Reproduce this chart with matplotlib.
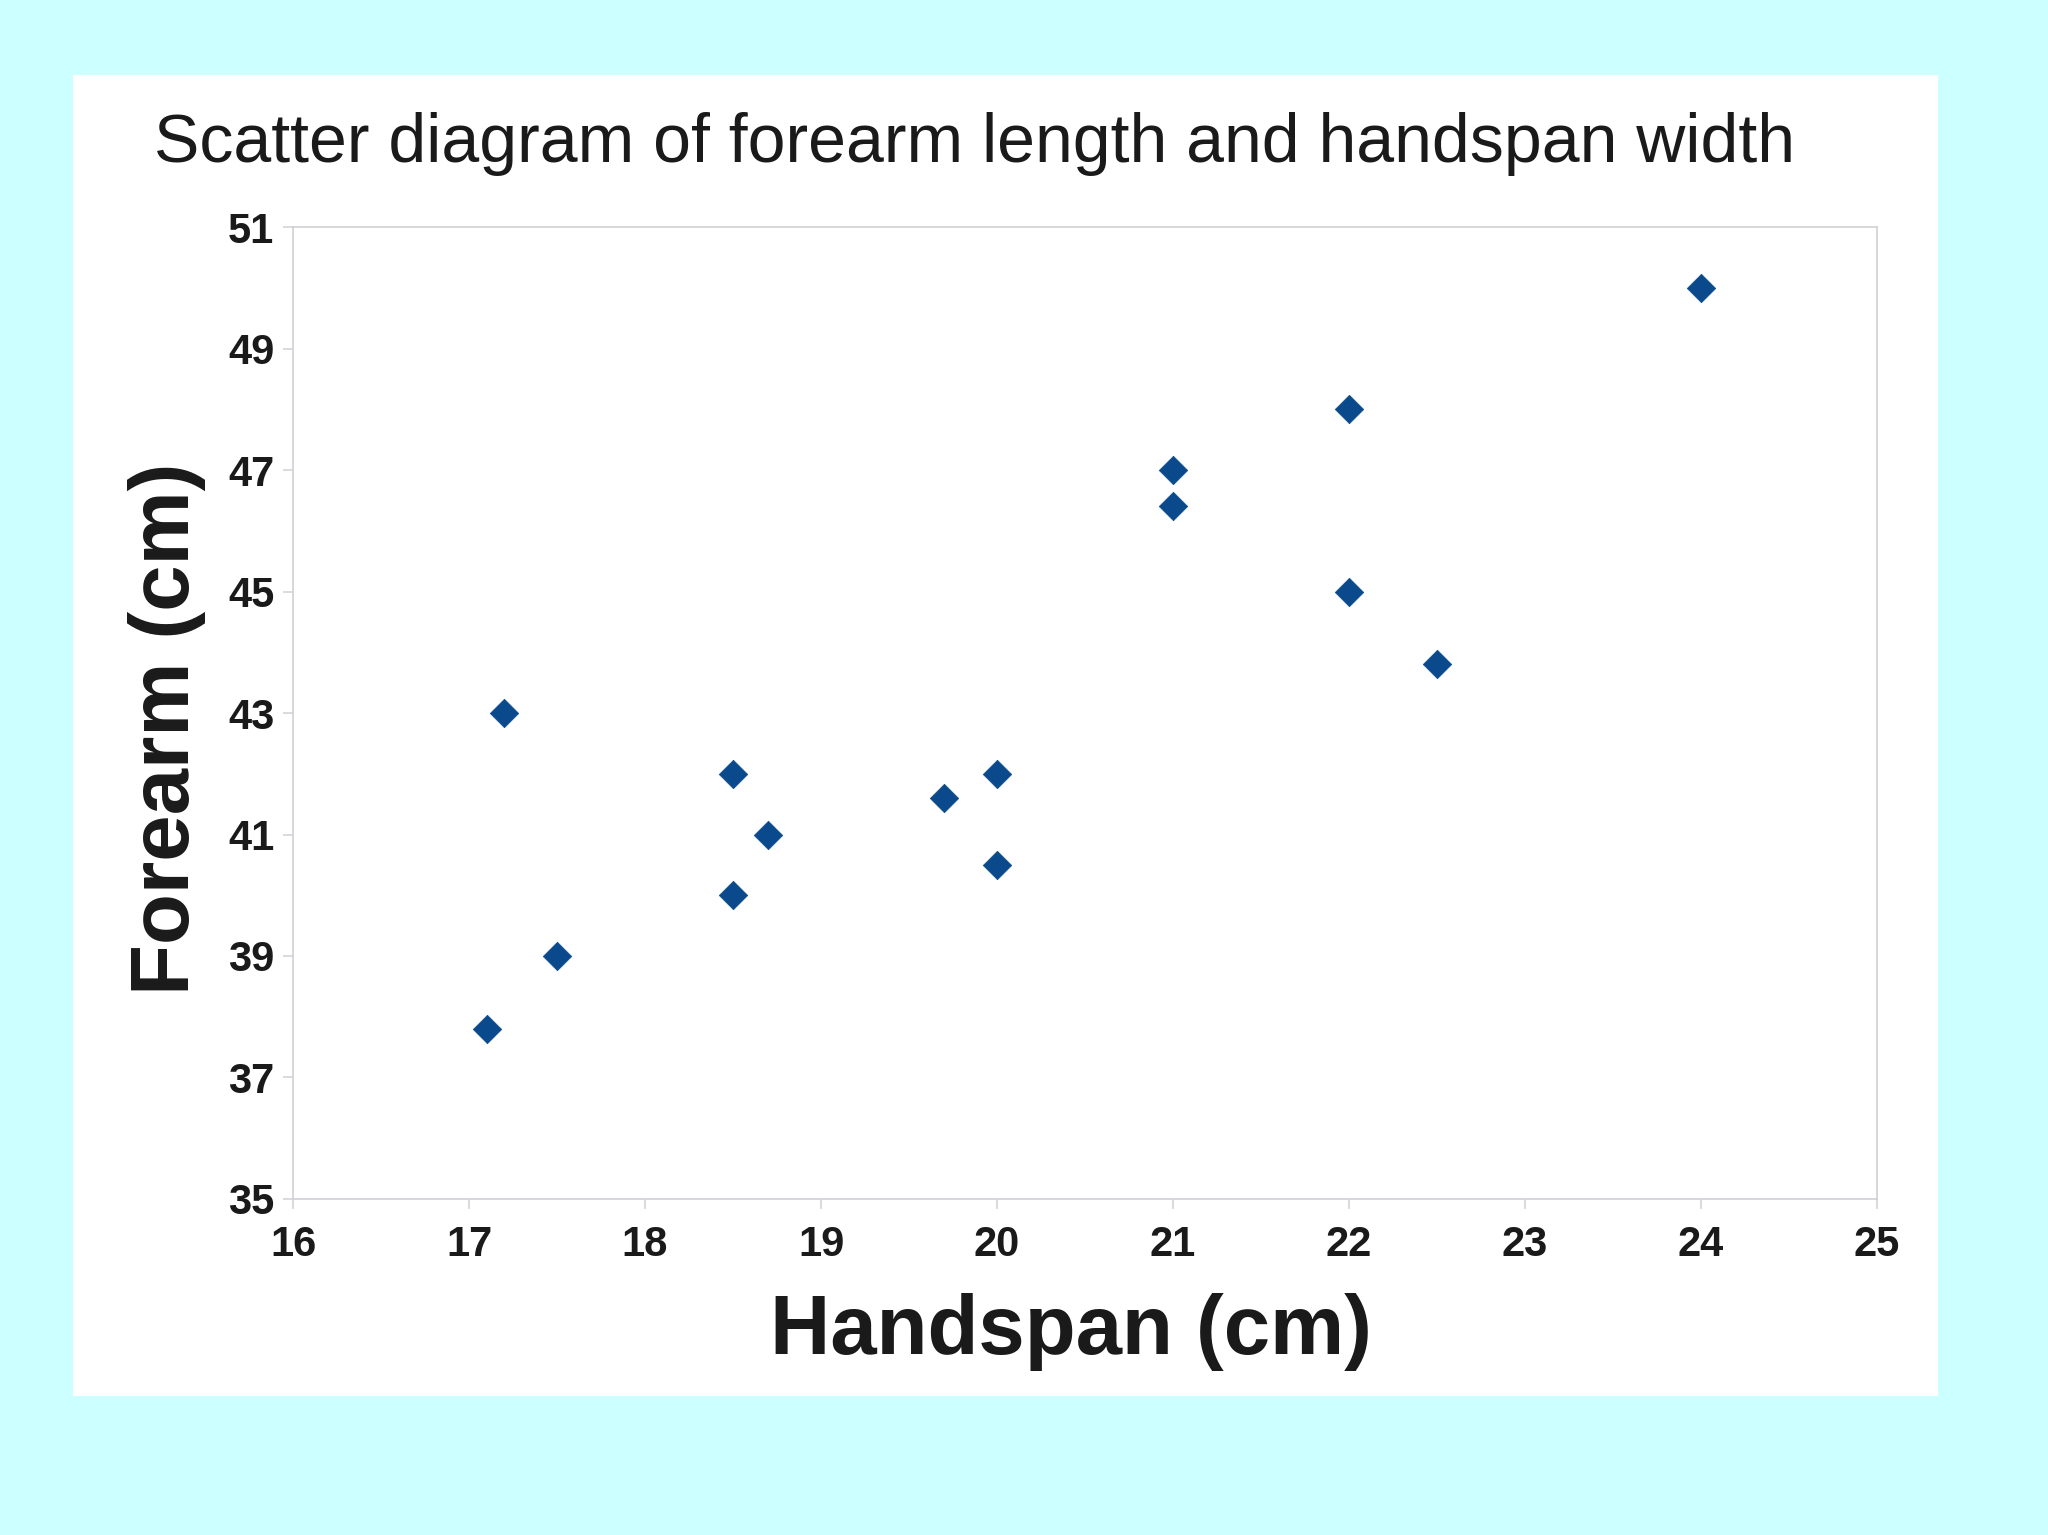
#! /usr/bin/env python3
# -*- coding: utf-8 -*-
'''
scatter of forearm length against handspan width
'''

import numpy as np
import matplotlib
matplotlib.use('Agg')
import matplotlib.pyplot as plt
from matplotlib.patches import Rectangle


# handspan (cm) and forearm (cm) of each person
handspan = [24, 22, 21, 21, 22, 22.5, 17.2, 18.5, 18.7, 19.7, 20, 20, 18.5, 17.5, 17.1]
forearm = [50, 48, 47, 46.4, 45, 43.8, 43, 42, 41, 41.6, 42, 40.5, 40, 39, 37.8]

x_ticks = np.arange(16, 26, 1)
y_ticks = np.arange(35, 52, 2)

title = 'Scatter diagram of forearm length and handspan width'
x_label = 'Handspan (cm)'
y_label = 'Forearm (cm)'


def main():
    plt.rcParams['font.family'] = ['Liberation Sans', 'DejaVu Sans']

    fig = plt.figure(figsize=(20.48, 15.35), dpi=100, facecolor='#ccffff')

    # white panel behind the chart
    fig.patches.append(Rectangle((0.0356, 0.0906), 0.9107, 0.8605,
                                 transform=fig.transFigure, facecolor='white',
                                 edgecolor='none', zorder=-10))

    ax = fig.add_axes([0.1431, 0.2189, 0.7734, 0.6332])
    ax.set_facecolor('white')

    ax.scatter(handspan, forearm, marker='D', s=14.5 ** 2, color='#0a4a8c',
               edgecolors='#0a4a8c', linewidths=0.5, zorder=3, clip_on=False)

    ax.set_xlim(16, 25)
    ax.set_ylim(35, 51)
    ax.set_xticks(x_ticks)
    ax.set_yticks(y_ticks)

    grey = '#cfcfd6'
    for sp in ax.spines.values():
        sp.set_color(grey)
        sp.set_linewidth(1.2)
    ax.tick_params(direction='out', length=7.5, width=1.1, color=grey,
                   labelsize=30, labelcolor='#1a1a1a')
    ax.tick_params(axis='y', pad=6)
    ax.tick_params(axis='x', pad=11)
    for lab in ax.get_xticklabels() + ax.get_yticklabels():
        lab.set_fontweight('bold')

    ax.set_xlabel(x_label, fontsize=60, fontweight='bold', color='#1a1a1a')
    ax.set_ylabel(y_label, fontsize=60, fontweight='bold', color='#1a1a1a')
    ax.xaxis.set_label_coords(0.491, -0.097)
    ax.yaxis.set_label_coords(-0.055, 0.4835)

    fig.text(154 / 2048, 1 - 162 / 1535, title, fontsize=49, color='#1a1a1a',
             ha='left', va='baseline')

    fig.savefig('out.png', dpi=100, facecolor=fig.get_facecolor())


if __name__ == '__main__':
    main()
